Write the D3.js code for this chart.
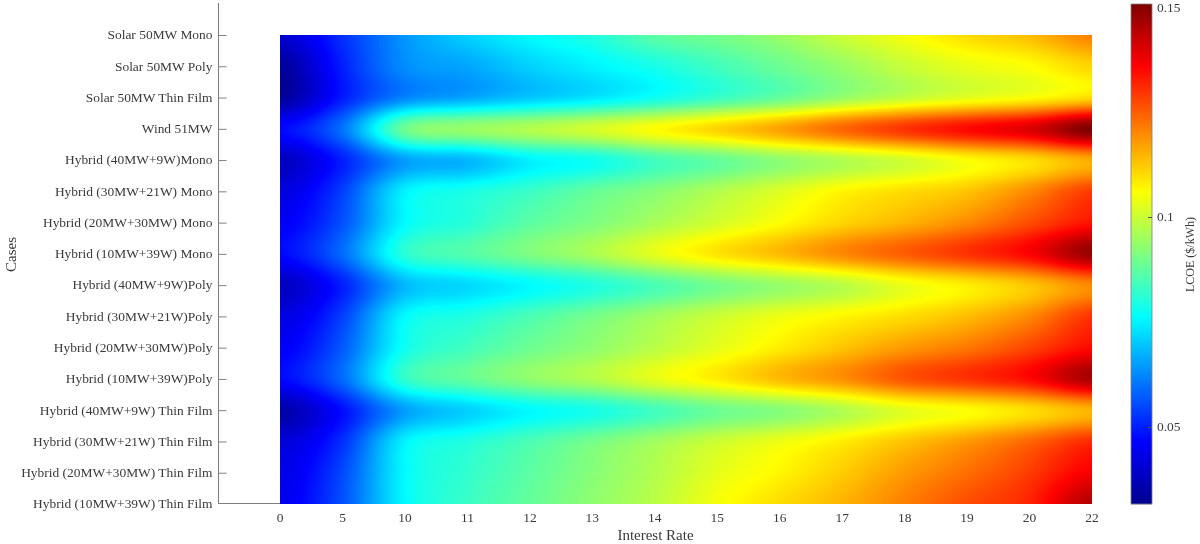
<!DOCTYPE html>
<html><head><meta charset="utf-8">
<script src="https://cdn.jsdelivr.net/npm/d3@7/dist/d3.min.js"></script>
<style>
html,body{margin:0;padding:0;background:#fff;overflow:hidden}
#wrap{position:relative;width:1200px;height:544px}
canvas{position:absolute;left:0;top:0}
svg{position:absolute;left:0;top:0}
text{font-family:"Liberation Serif","Times New Roman",serif;fill:#3a3a3a}
</style></head><body><div id="wrap"><canvas id="cv" width="1200" height="544"></canvas><svg id="sv" width="1200" height="544"></svg></div>
<script>
const cases=["Solar 50MW Mono","Solar 50MW Poly","Solar 50MW Thin Film","Wind 51MW","Hybrid (40MW+9W)Mono","Hybrid (30MW+21W) Mono","Hybrid (20MW+30MW) Mono","Hybrid (10MW+39W) Mono","Hybrid (40MW+9W)Poly","Hybrid (30MW+21W)Poly","Hybrid (20MW+30MW)Poly","Hybrid (10MW+39W)Poly","Hybrid (40MW+9W) Thin Film","Hybrid (30MW+21W) Thin Film","Hybrid (20MW+30MW) Thin Film","Hybrid (10MW+39W) Thin Film"];
const rates=["0","5","10","11","12","13","14","15","16","17","18","19","20","22"];
const solarMono=[.040,.052,.064,.071,.076,.080,.087,.090,.094,.100,.105,.110,.114,.121];
const solarPoly=[.033,.050,.063,.066,.071,.075,.079,.084,.089,.094,.0995,.1035,.106,.111];
const solarThin=[.033,.0495,.062,.066,.070,.0735,.078,.083,.088,.094,.099,.103,.106,.110];
const wind=[.047,.060,.089,.094,.097,.101,.106,.111,.117,.124,.130,.135,.140,.151];
const h40Mono=[.038,.050,.065,.068,.075,.078,.084,.088,.093,.097,.101,.106,.110,.116];
const h30Mono=[.042,.054,.075,.079,.083,.088,.092,.097,.102,.107,.110,.113,.120,.129];
const h20Mono=[.045,.056,.076,.081,.087,.091,.096,.101,.106,.111,.115,.120,.127,.134];
const h10Mono=[.047,.059,.081,.086,.091,.096,.103,.109,.114,.120,.125,.130,.136,.148];
const h40Poly=[.038,.050,.068,.072,.076,.080,.085,.090,.094,.098,.104,.108,.113,.120];
const h30Poly=[.042,.054,.076,.080,.085,.090,.095,.100,.104,.107,.110,.114,.120,.130];
const h20Poly=[.045,.057,.078,.084,.089,.093,.098,.103,.108,.113,.118,.122,.128,.135];
const h10Poly=[.047,.059,.082,.088,.093,.097,.103,.108,.114,.119,.126,.130,.135,.146];
const h40Thin=[.035,.048,.065,.071,.076,.079,.084,.089,.092,.097,.103,.106,.110,.115];
const h30Thin=[.041,.052,.075,.080,.085,.090,.095,.100,.104,.108,.113,.118,.124,.131];
const h20Thin=[.043,.055,.076,.082,.087,.092,.097,.103,.107,.112,.118,.123,.129,.137];
const h10Thin=[.044,.056,.076,.083,.088,.093,.098,.105,.110,.115,.121,.127,.132,.145];
const lcoe=[solarMono,solarPoly,solarThin,wind,h40Mono,h30Mono,h20Mono,h10Mono,h40Poly,h30Poly,h20Poly,h10Poly,h40Thin,h30Thin,h20Thin,h10Thin];
const colorTicks=[0.05,0.1,0.15];
const colorDomain=[0.0317,0.1507];

// scales
const x=d3.scaleLinear().domain([-1,13]).range([217.6,1092]);
const y=d3.scaleLinear().domain([0,15]).range([35,504]);
const vc=d3.scaleLinear().domain(colorDomain).range([504,4]);
const jetT=[0,.125,.375,.625,.875,1];
const jetC=["rgb(0,0,143)","rgb(0,0,255)","rgb(0,255,255)","rgb(255,255,0)","rgb(255,0,0)","rgb(128,0,0)"];
const color=d3.scaleLinear().domain(jetT.map(t=>colorDomain[0]+t*(colorDomain[1]-colorDomain[0]))).range(jetC).clamp(true);

function cr(p0,p1,p2,p3,t){return .5*((2*p1)+(-p0+p2)*t+(2*p0-5*p1+4*p2-p3)*t*t+(-p0+3*p1-3*p2+p3)*t*t*t);}
function spline(a,u){const n=a.length-1,i=Math.min(n-1,Math.max(0,Math.floor(u))),t=u-i;
  return cr(a[Math.max(0,i-1)],a[i],a[i+1],a[Math.min(n,i+2)],t);}

// heatmap
const ctx=document.getElementById("cv").getContext("2d");
const x0=Math.round(x(0)),x1=Math.round(x(13)),y0=Math.round(y(0)),y1=Math.round(y(15));
const w=x1-x0,h=y1-y0;
const img=ctx.createImageData(w,h);
const colCache=d3.range(0,1024).map(i=>d3.rgb(color(colorDomain[0]+i/1023*(colorDomain[1]-colorDomain[0]))));
for(let py=0;py<h;py++){
  const v=y.invert(py+y0+.5);
  const col=rates.map((_,c)=>spline(lcoe.map(r=>r[c]),Math.min(15,Math.max(0,v))));
  for(let px=0;px<w;px++){
    const u=x.invert(px+x0+.5);
    const val=spline(col,Math.min(13,Math.max(0,u)));
    const k=Math.max(0,Math.min(1023,Math.round((val-colorDomain[0])/(colorDomain[1]-colorDomain[0])*1023)));
    const c=colCache[k],o=(py*w+px)*4;
    img.data[o]=c.r;img.data[o+1]=c.g;img.data[o+2]=c.b;img.data[o+3]=255;
  }
}
ctx.putImageData(img,x0,y0);

const svg=d3.select("#sv");
const axisGrey="#808080";
svg.append("line").attr("x1",218.5).attr("x2",218.5).attr("y1",3).attr("y2",503.5).attr("stroke",axisGrey).attr("stroke-width",1.1);
svg.append("line").attr("x1",218).attr("x2",x(0)).attr("y1",503.5).attr("y2",503.5).attr("stroke",axisGrey).attr("stroke-width",1.1);

const gy=svg.append("g").attr("transform","translate(218.5,0)").call(
  d3.axisRight(y).tickValues(d3.range(15)).tickSize(8).tickFormat(""));
gy.select(".domain").remove();
gy.selectAll("line").attr("stroke",axisGrey);
svg.append("g").selectAll("text").data(cases).join("text")
  .attr("x",212.5).attr("y",(d,i)=>y(i)).attr("dy","0.32em").attr("text-anchor","end").attr("font-size",13.45).text(d=>d);

svg.append("g").selectAll("text").data(rates).join("text")
  .attr("x",(d,i)=>x(i)).attr("y",518).attr("dy","0.32em").attr("text-anchor","middle").attr("font-size",13.45).text(d=>d);
svg.append("text").attr("x",655.5).attr("y",535).attr("dy","0.32em").attr("text-anchor","middle").attr("font-size",15).text("Interest Rate");
svg.append("text").attr("transform","translate(11,254.5) rotate(-90)").attr("dy","0.32em").attr("text-anchor","middle").attr("font-size",15).text("Cases");

const cb=svg.append("g");
cb.selectAll("rect").data(d3.range(4,504)).join("rect")
  .attr("x",1131).attr("width",21).attr("y",d=>d).attr("height",1.2)
  .attr("fill",d=>color(vc.invert(d+.5)));
cb.append("rect").attr("x",1131).attr("y",4).attr("width",21).attr("height",500).attr("fill","none").attr("stroke",axisGrey).attr("stroke-width",.8);
const gc=svg.append("g").attr("transform","translate(1152,0)").call(
  d3.axisLeft(vc).tickValues(colorTicks.slice(0,2)).tickSize(4).tickFormat(""));
gc.select(".domain").remove();gc.selectAll("line").attr("stroke","#555");
svg.append("g").selectAll("text").data(colorTicks).join("text")
  .attr("x",1157).attr("y",d=>d===0.15?7.5:vc(d)).attr("dy","0.32em").attr("font-size",13.45).text(d=>d);
svg.append("text").attr("transform","translate(1190,254.5) rotate(-90)").attr("dy","0.32em").attr("text-anchor","middle").attr("font-size",12).text("LCOE ($/kWh)");
</script></body></html>
